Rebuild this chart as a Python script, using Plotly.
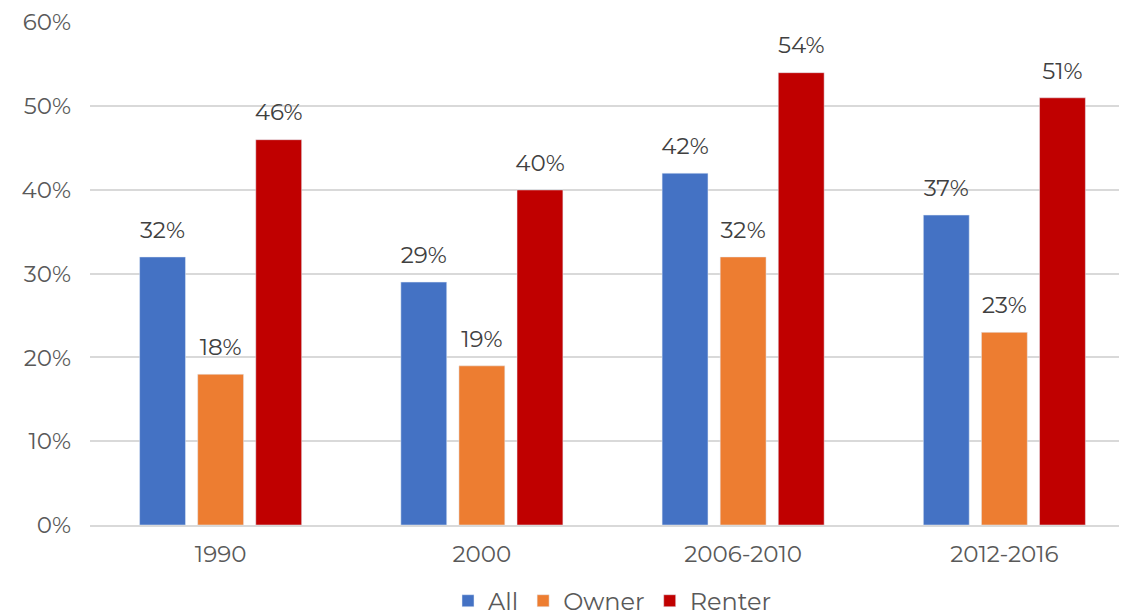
import plotly.graph_objects as go

categories = ["1990", "2000", "2006-2010", "2012-2016"]
all_vals = [32, 29, 42, 37]
owner_vals = [18, 19, 32, 23]
renter_vals = [46, 40, 54, 51]
tick_vals = [0, 10, 20, 30, 40, 50, 60]
tick_text = ["0%", "10%", "20%", "30%", "40%", "50%", "60%"]
series = [("All", all_vals, "#4472C4"), ("Owner", owner_vals, "#ED7D31"), ("Renter", renter_vals, "#C00000")]

fig = go.Figure()
for name, vals, color in series:
    fig.add_trace(go.Bar(
        x=categories, y=vals, name=name, marker_color=color,
        offsetgroup=name, alignmentgroup="g",
    ))
for name, vals, color in series:
    fig.add_trace(go.Scatter(
        x=categories, y=vals, mode="markers+text", showlegend=False,
        offsetgroup=name, alignmentgroup="g",
        marker=dict(size=20, opacity=0, color=color),
        text=[f"{v}%" for v in vals], textposition="top center",
        textfont=dict(size=23, color="#404040"), cliponaxis=False, hoverinfo="skip",
    ))

fig.update_layout(
    width=1127, height=614,
    margin=dict(l=82, r=0, t=10, b=97),
    paper_bgcolor="white", plot_bgcolor="white",
    font=dict(family="Montserrat, Lato, 'Noto Sans', sans-serif", size=22, color="#595959"),
    barmode="group", bargap=0.333, bargroupgap=0.21, scattermode="group",
    legend=dict(orientation="h", x=0.5, xanchor="center", yref="container", y=0.034, yanchor="middle",
                font=dict(size=24, color="#595959"), itemwidth=30, tracegroupgap=0),
    yaxis=dict(range=[0, 60.05], tickmode="array", tickvals=tick_vals, ticktext=tick_text,
               showgrid=True, gridcolor="#D9D9D9", gridwidth=1.5, zeroline=False,
               showline=False, ticks="", tickfont=dict(size=23), ticklabelstandoff=18,
               ticklabeloverflow="allow"),
    xaxis=dict(showline=True, linecolor="#D9D9D9", linewidth=2, ticks="",
               tickfont=dict(size=23), ticklabelstandoff=7),
)
fig.write_html("out.html")
